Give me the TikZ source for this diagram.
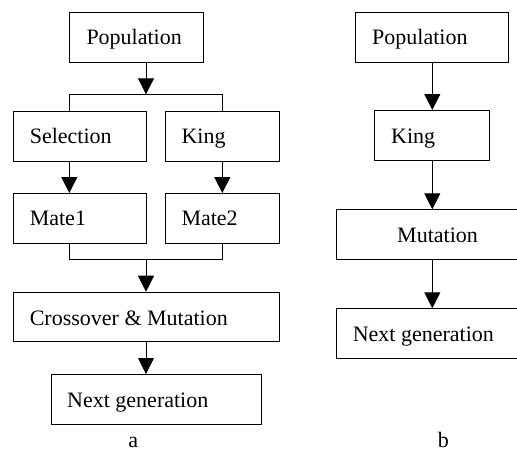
\documentclass[tikz,border=0pt]{standalone}
\usepackage{fontspec}
\setmainfont{Liberation Serif}
\usetikzlibrary{arrows.meta,calc}
\begin{document}
\begin{tikzpicture}[x=1pt,y=-1pt,
  line width=1pt,
  boxstyle/.style={draw=black,line width=1pt,rectangle,inner sep=0pt},
  lbl/.style={anchor=base west,inner sep=0pt,font=\fontsize{22}{26}\selectfont},
  captext/.style={anchor=base,inner sep=0pt,font=\fontsize{22}{26}\selectfont},
  arr/.style={-{Triangle[length=16pt,width=16pt]},line width=1pt},
  ln/.style={line width=1pt}]
\useasboundingbox (0,0) rectangle (517,451);
% ---------- a ----------
\node[boxstyle,minimum width=134pt,minimum height=50pt,anchor=north west] (popA) at (69.3,11.7) {};
\node[boxstyle,minimum width=133.3pt,minimum height=50pt,anchor=north west] (selA) at (12.7,111) {};
\node[boxstyle,minimum width=114.3pt,minimum height=50pt,anchor=north west] (kingA) at (165,111) {};
\node[boxstyle,minimum width=133.3pt,minimum height=50pt,anchor=north west] (mate1) at (12.7,193) {};
\node[boxstyle,minimum width=114.3pt,minimum height=50pt,anchor=north west] (mate2) at (165,193) {};
\node[boxstyle,minimum width=266.6pt,minimum height=49.3pt,anchor=north west] (cross) at (12.7,291.7) {};
\node[boxstyle,minimum width=210pt,minimum height=50pt,anchor=north west] (nextA) at (50.7,374) {};
\node[lbl] (tpopA) at (86,44.5) {Population};
\node[lbl] (tselA) at (29.3,143.5) {Selection};
\node[lbl] (tkingA) at (181,143.5) {King};
\node[lbl] (tmate1) at (29.3,225.5) {Mate1};
\node[lbl] (tmate2) at (181,225.5) {Mate2};
\node[lbl] (tcross) at (29.3,325) {Crossover \& Mutation};
\node[lbl] (tnextA) at (66.7,407) {Next generation};
\node[captext] (capa) at (133.3,447.5) {a};
\coordinate (busA) at (146,94.3);
\coordinate (busB) at (146,259);
\coordinate (xL) at (69.3,0);
\coordinate (xR) at (222.3,0);
\draw[arr] (popA.south -| busA) -- (busA);
\draw[ln] (selA.north -| xL) -- (busA -| xL) -- (busA -| xR) -- (kingA.north -| xR);
\draw[arr] (selA.south -| xL) -- (mate1.north -| xL);
\draw[arr] (kingA.south -| xR) -- (mate2.north -| xR);
\draw[ln] (mate1.south -| xL) -- (busB -| xL) -- (busB -| xR) -- (mate2.south -| xR);
\draw[arr] (busB) -- (cross.north -| busB);
\draw[arr] (cross.south -| busB) -- (nextA.north -| busB);
% ---------- b ----------
\node[boxstyle,minimum width=153.3pt,minimum height=50pt,anchor=north west] (popB) at (355,11.7) {};
\node[boxstyle,minimum width=115pt,minimum height=50pt,anchor=north west] (kingB) at (374,110) {};
\node[boxstyle,minimum width=180.8pt,minimum height=49.7pt,anchor=north west] (mut) at (335.7,209.3) {};
\node[boxstyle,minimum width=180.8pt,minimum height=50pt,anchor=north west] (nextB) at (335.7,308.3) {};
\node[lbl] (tpopB) at (371.7,44.5) {Population};
\node[lbl] (tkingB) at (390.7,143.3) {King};
\node[lbl] (tmut) at (396.7,242) {Mutation};
\node[lbl] (tnextB) at (352.3,341) {Next generation};
\node[captext] (capb) at (443.3,447.5) {b};
\coordinate (colB) at (432.3,0);
\draw[arr] (popB.south -| colB) -- (kingB.north -| colB);
\draw[arr] (kingB.south -| colB) -- (mut.north -| colB);
\draw[arr] (mut.south -| colB) -- (nextB.north -| colB);
\end{tikzpicture}
\end{document}
